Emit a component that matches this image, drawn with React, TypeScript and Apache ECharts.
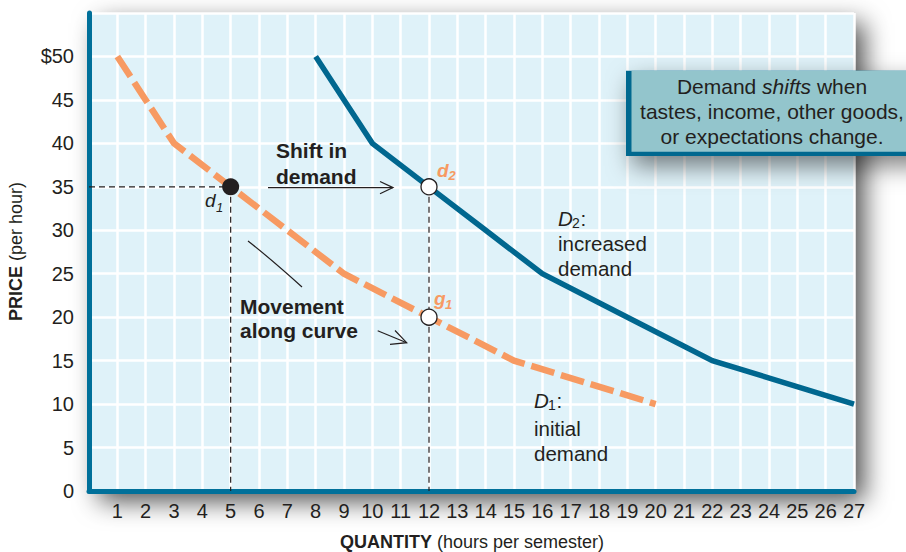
import React, { useEffect, useRef } from "react";
import * as echarts from "echarts";

// ---- data ----
const prices = [50, 45, 40, 35, 30, 25, 20, 15, 10];
const d1Quantities = [1, 2, 3, 5, 7, 9, 12, 15, 20];
const d2Quantities = [8, 9, 10, 12, 14, 16, 19, 22, 27];
const pointD1: [number, number] = [5, 35];
const pointD2: [number, number] = [12, 35];
const pointG1: [number, number] = [12, 20];
const xRange = [0, 27];
const yRange = [0, 55];
const yTopLabelValue = 50;

const FONT = "'Liberation Sans', Arial, Helvetica, sans-serif";
const INK = "#231f20";
const ORANGE = "#f79a62";
const BLUE = "#00678f";
const AXIS = "#00709a";
const PLOT_BG = "#dff2f9";
const BOX_FILL = "#93c5cc";

function text(x: number, y: number, t: string, extra: any = {}, z = 50) {
  return {
    type: "text",
    x,
    y,
    z,
    style: {
      text: t,
      fontFamily: FONT,
      fontSize: 21,
      fill: INK,
      align: "left",
      verticalAlign: "middle",
      ...extra,
    },
  };
}

export default function App() {
  const ref = useRef<HTMLDivElement>(null);

  useEffect(() => {
    if (!ref.current) return;
    const chart = echarts.init(ref.current, null, { renderer: "svg" });

    const d1Data = d1Quantities.map((q, i) => [q, prices[i]]);
    const d2Data = d2Quantities.map((q, i) => [q, prices[i]]);

    const guideStyle = { color: INK, width: 1.2, type: [6, 4] as any };

    const option: any = {
      animation: false,
      grid: {
        left: 89,
        right: 52,
        top: 13,
        bottom: 61,
        show: true,
        backgroundColor: PLOT_BG,
        borderWidth: 0,
        shadowBlur: 26,
        shadowColor: "rgba(0,0,0,0.7)",
        shadowOffsetX: 10,
        shadowOffsetY: 10,
      },
      xAxis: {
        type: "value",
        min: xRange[0],
        max: xRange[1],
        interval: 1,
        axisLine: { show: true, onZero: false, lineStyle: { color: AXIS, width: 5 } },
        axisTick: { show: false },
        splitLine: { show: true, lineStyle: { color: "#ffffff", width: 2.5 } },
        axisLabel: {
          margin: 10,
          fontFamily: FONT,
          fontSize: 20,
          color: INK,
          formatter: (v: number) => (v === 0 ? "" : String(v)),
        },
      },
      yAxis: {
        type: "value",
        min: yRange[0],
        max: yRange[1],
        interval: 5,
        axisLine: { show: true, onZero: false, lineStyle: { color: AXIS, width: 5 } },
        axisTick: { show: false },
        splitLine: { show: true, lineStyle: { color: "#ffffff", width: 2.5 } },
        axisLabel: {
          margin: 15,
          fontFamily: FONT,
          fontSize: 20,
          color: INK,
          formatter: (v: number) =>
            v === yRange[1] ? "" : v === yTopLabelValue ? "$" + v : String(v),
        },
      },
      series: [
        {
          type: "line",
          data: [[0, pointD1[1]], pointD1],
          showSymbol: false,
          lineStyle: guideStyle,
          z: 1,
          silent: true,
        },
        {
          type: "line",
          data: [pointD1, [pointD1[0], 0]],
          showSymbol: false,
          lineStyle: guideStyle,
          z: 1,
          silent: true,
        },
        {
          type: "line",
          data: [pointD2, [pointD2[0], 0]],
          showSymbol: false,
          lineStyle: guideStyle,
          z: 1,
          silent: true,
        },
        {
          name: "D1",
          type: "line",
          data: d1Data,
          showSymbol: false,
          lineStyle: { color: ORANGE, width: 6.5, type: [24, 7], cap: "butt", join: "miter" },
          z: 3,
        },
        {
          name: "D2",
          type: "line",
          data: d2Data,
          showSymbol: false,
          lineStyle: { color: BLUE, width: 5.5, cap: "butt", join: "miter" },
          z: 3,
        },
        {
          type: "scatter",
          data: [pointD1],
          symbol: "circle",
          symbolSize: 17,
          itemStyle: { color: INK, opacity: 1 },
          z: 5,
        },
        {
          type: "scatter",
          data: [pointD2, pointG1],
          symbol: "circle",
          symbolSize: 16,
          itemStyle: { color: "#ffffff", borderColor: INK, borderWidth: 1.3, opacity: 1 },
          z: 5,
        },
      ],
      graphic: [
        // axis titles
        {
          type: "text",
          x: 472,
          y: 541.5,
          style: {
            text: "{b|QUANTITY} {n|(hours per semester)}",
            align: "center",
            verticalAlign: "middle",
            fontFamily: FONT,
            fontSize: 18,
            fill: INK,
            rich: {
              b: { fontFamily: FONT, fontSize: 18, fontWeight: "bold", fill: INK },
              n: { fontFamily: FONT, fontSize: 18, fill: INK },
            },
          },
        },
        {
          type: "text",
          x: 16,
          y: 251.5,
          rotation: Math.PI / 2,
          style: {
            text: "{b|PRICE} {n|(per hour)}",
            align: "center",
            verticalAlign: "middle",
            fontFamily: FONT,
            fontSize: 18,
            fill: INK,
            rich: {
              b: { fontFamily: FONT, fontSize: 18, fontWeight: "bold", fill: INK },
              n: { fontFamily: FONT, fontSize: 18, fill: INK },
            },
          },
        },
        // callout box
        {
          type: "rect",
          z: 40,
          shape: { x: 626, y: 70.7, width: 300, height: 85.3 },
          style: {
            fill: BLUE,
            shadowBlur: 24,
            shadowColor: "rgba(0,0,0,0.5)",
            shadowOffsetX: 6,
            shadowOffsetY: 10,
          },
        },
        {
          type: "rect",
          z: 41,
          shape: { x: 631.5, y: 70.7, width: 300, height: 81 },
          style: { fill: BOX_FILL },
        },
        {
          type: "text",
          x: 772,
          y: 86,
          z: 50,
          style: {
            text: "{n|Demand }{i|shifts}{n| when}",
            align: "center",
            verticalAlign: "middle",
            fontFamily: FONT,
            fontSize: 21,
            fill: INK,
            rich: {
              n: { fontFamily: FONT, fontSize: 21, fill: INK },
              i: { fontFamily: FONT, fontSize: 21, fontStyle: "italic", fill: INK },
            },
          },
        },
        text(772, 111, "tastes, income, other goods,", { align: "center" }),
        text(772, 136, "or expectations change.", { align: "center" }),
        // Shift in demand
        text(276, 150, "Shift in", { fontWeight: "bold" }),
        text(276, 176, "demand", { fontWeight: "bold" }),
        {
          type: "line",
          z: 50,
          shape: { x1: 268, y1: 187.6, x2: 393, y2: 187.6 },
          style: { stroke: INK, lineWidth: 1.2 },
        },
        {
          type: "polyline",
          z: 50,
          shape: { points: [[380, 181.5], [393, 187.6], [380, 193.7]] },
          style: { stroke: INK, lineWidth: 1.2, fill: null },
        },
        // Movement along curve
        text(240, 306, "Movement", { fontWeight: "bold" }),
        text(240, 330, "along curve", { fontWeight: "bold" }),
        {
          type: "line",
          z: 50,
          shape: { x1: 377.7, y1: 330.7, x2: 406.7, y2: 342.7 },
          style: { stroke: INK, lineWidth: 1.2 },
        },
        {
          type: "polyline",
          z: 50,
          shape: { points: [[395, 330.5], [406.7, 342.7], [390, 344.3]] },
          style: { stroke: INK, lineWidth: 1.2, fill: null },
        },
        {
          type: "bezierCurve",
          z: 50,
          shape: { x1: 248, y1: 241, x2: 302, y2: 287, cpx1: 271, cpy1: 259 },
          style: { stroke: INK, lineWidth: 1.2, fill: null },
        },
        // point labels
        text(205, 200.5, "d", { fontStyle: "italic", fontSize: 19 }),
        text(216, 207.5, "1", { fontStyle: "italic", fontSize: 13 }),
        text(437, 170.5, "d", { fontStyle: "italic", fontWeight: "bold", fontSize: 19, fill: ORANGE }),
        text(448.5, 175.5, "2", { fontStyle: "italic", fontWeight: "bold", fontSize: 13, fill: ORANGE }),
        text(434, 298, "g", { fontStyle: "italic", fontWeight: "bold", fontSize: 19, fill: ORANGE }),
        text(445, 304, "1", { fontStyle: "italic", fontWeight: "bold", fontSize: 13, fill: ORANGE }),
        // curve labels
        text(558, 218, "D", { fontStyle: "italic", fontSize: 20.5 }),
        text(572, 223, "2", { fontSize: 14 }),
        text(580.5, 218, ":", { fontSize: 20.5 }),
        text(558, 243, "increased", { fontSize: 20.5 }),
        text(558, 268, "demand", { fontSize: 20.5 }),
        text(534, 400, "D", { fontStyle: "italic", fontSize: 20.5 }),
        text(548, 405, "1", { fontSize: 14 }),
        text(556.5, 400, ":", { fontSize: 20.5 }),
        text(534, 428, "initial", { fontSize: 20.5 }),
        text(534, 453, "demand", { fontSize: 20.5 }),
      ],
    };

    chart.setOption(option);
    return () => chart.dispose();
  }, []);

  return (
    <div
      ref={ref}
      style={{ position: "fixed", left: 0, top: 0, width: 906, height: 552, background: "#ffffff" }}
    />
  );
}
